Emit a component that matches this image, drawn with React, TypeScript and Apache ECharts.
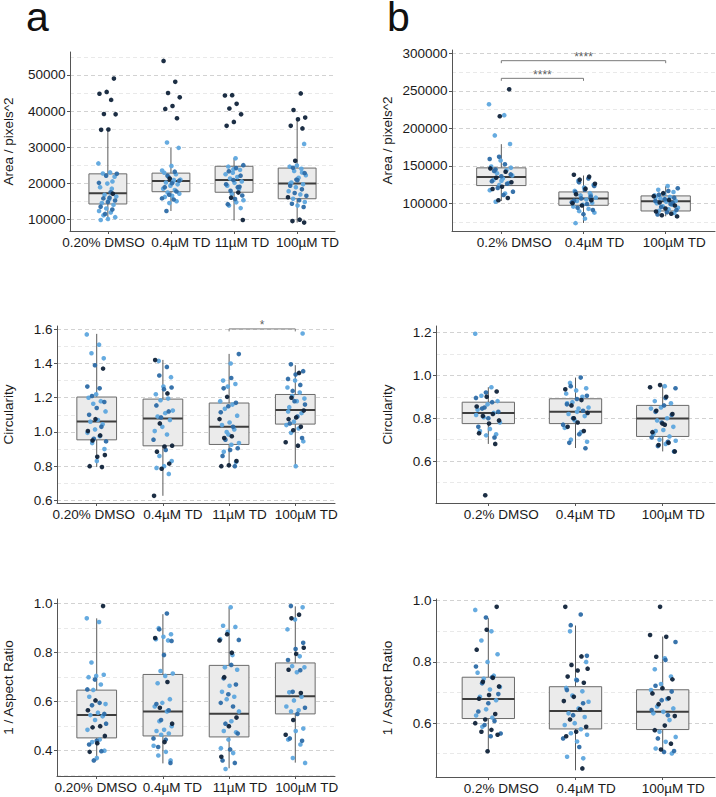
import React, { useEffect, useRef } from "react";
import * as echarts from "echarts";

// ---------- categories ----------
const catsA = ["0.20% DMSO", "0.4µM TD", "11µM TD", "100µM TD"];
const catsB = ["0.2% DMSO", "0.4µM TD", "100µM TD"];

// ---------- box statistics [min, Q1, median, Q3, max] ----------
const areaA_box = [
  [9800, 14250, 17200, 22600, 34800],
  [12300, 17650, 20600, 22800, 29800],
  [9700, 17500, 20900, 24700, 26900],
  [9100, 15700, 19900, 24200, 38100],
];
const areaB_box = [
  [103000, 123600, 135100, 147200, 178800],
  [73700, 97300, 106300, 115100, 137000],
  [82600, 89700, 102700, 109800, 122700],
];
const circA_box = [
  [0.795, 0.954, 1.061, 1.204, 1.573],
  [0.627, 0.919, 1.079, 1.192, 1.421],
  [0.798, 0.927, 1.03, 1.169, 1.456],
  [0.803, 1.046, 1.128, 1.219, 1.39],
];
const circB_box = [
  [0.68, 0.775, 0.824, 0.875, 0.945],
  [0.661, 0.775, 0.83, 0.891, 0.99],
  [0.645, 0.715, 0.799, 0.86, 0.953],
];
const arA_box = [
  [0.36, 0.452, 0.545, 0.647, 0.94],
  [0.348, 0.46, 0.56, 0.711, 0.957],
  [0.328, 0.456, 0.551, 0.748, 0.983],
  [0.351, 0.55, 0.622, 0.758, 0.989],
];
const arB_box = [
  [0.508, 0.615, 0.679, 0.75, 0.943],
  [0.446, 0.581, 0.64, 0.719, 0.919],
  [0.506, 0.579, 0.637, 0.709, 0.883],
];

// ---------- individual cells (L = light blue, M = mid blue, D = dark) ----------
const areaA_L = [
  [25500, 23000, 22700, 21800, 19900, 18900, 18500, 16800, 16300, 15500, 14500, 14000, 13000, 12300, 11900, 11100, 10600, 10100, 9800, 20500],
  [31300, 29800, 24800, 22900, 22500, 21700, 21000, 20500, 20200, 19700, 19300, 18500, 18100, 17400, 17100, 16500, 16200, 15000, 14500, 23500, 20900],
  [26900, 24600, 23700, 22900, 22500, 21700, 21300, 20500, 20100, 19300, 18400, 17000, 15300, 14700, 13800, 13100, 23900],
  [30900, 24900, 24600, 24000, 23400, 22200, 21500, 20200, 19700, 18900, 17800, 16900, 15700, 14800, 13800, 19900, 23000],
];
const areaA_M = [
  [22100, 20100, 17500, 15800, 15200, 14800, 13500, 12700, 11500, 22600, 16000],
  [23200, 22100, 20700, 20000, 18900, 17700, 16800, 15800, 15500, 12300],
  [25000, 24200, 23300, 22100, 20900, 19700, 18900, 17900, 16600, 15600, 14200, 19000],
  [24300, 22800, 20800, 19300, 18300, 17300, 16500, 15300, 14300, 13400, 21000],
];
const areaA_D = [
  [49000, 45300, 44800, 43100, 39200, 39100, 34900, 34800, 17100],
  [53900, 48100, 45000, 43800, 41400, 40600, 38000, 21300],
  [44400, 44300, 42000, 40700, 39100, 37000, 35900, 17400, 16000, 9800],
  [44900, 40300, 38200, 37700, 35900, 35200, 26200, 16100, 9900, 9500, 9100],
];

const areaB_L = [
  [232000, 217500, 190500, 179000, 157000, 149000, 144000, 140000, 137000, 133000, 131000, 127000, 124500, 117500, 113000, 102000, 147500, 130000],
  [130000, 124500, 121000, 116500, 113500, 110500, 107500, 105000, 103000, 100500, 98000, 95500, 92500, 89500, 87500, 79500, 73500, 111000],
  [123000, 118000, 115000, 112500, 110500, 108500, 106500, 103500, 102000, 100000, 98000, 96000, 94000, 92000, 90000, 87000, 105000, 108000],
];
const areaB_M = [
  [162000, 159000, 152000, 145000, 138500, 136000, 129500, 126000, 120500, 115500, 111000, 143000],
  [133000, 128000, 123000, 118000, 115000, 109000, 106500, 101500, 99000, 94000, 91000, 85500, 103500],
  [120000, 116500, 111500, 107500, 105500, 103000, 99000, 95000, 91000, 88000, 85000, 100500],
];
const areaB_D = [
  [252000, 216000, 146500, 142000, 134000, 128000, 122000, 119000, 107000, 104000],
  [138000, 135500, 131500, 126000, 119500, 112000, 104000, 97000, 100000],
  [113500, 109500, 104500, 101000, 97000, 93000, 89000, 86000, 84000, 82500],
];

const circA_L = [
  [1.57, 1.51, 1.46, 1.43, 1.22, 1.2, 1.18, 1.165, 1.12, 1.07, 1.06, 1.045, 1.015, 0.995, 0.975, 0.935, 0.9, 0.83],
  [1.415, 1.32, 1.265, 1.22, 1.195, 1.185, 1.125, 1.11, 1.09, 1.07, 1.03, 1.005, 0.985, 0.86, 0.83, 0.8, 0.79, 0.755],
  [1.4, 1.3, 1.28, 1.265, 1.18, 1.16, 1.135, 1.095, 1.055, 1.04, 1.015, 1.0, 0.935, 0.925, 0.885, 0.825, 0.985],
  [1.575, 1.3, 1.26, 1.23, 1.21, 1.195, 1.18, 1.145, 1.11, 1.06, 1.04, 1.02, 0.995, 0.945, 0.8, 1.12],
];
const circA_M = [
  [1.39, 1.265, 1.255, 1.21, 1.175, 1.14, 1.1, 1.03, 0.96, 0.945],
  [1.38, 1.33, 1.26, 1.25, 1.155, 1.12, 1.085, 0.955, 0.895],
  [1.455, 1.315, 1.255, 1.17, 1.15, 1.115, 1.03, 0.955, 0.905, 0.895, 0.86, 0.8],
  [1.395, 1.355, 1.335, 1.31, 1.275, 1.24, 1.16, 1.09, 1.05, 0.965, 1.18],
];
const circA_D = [
  [1.37, 1.075, 1.005, 0.98, 0.95, 0.865, 0.855, 0.8, 0.795],
  [1.42, 1.225, 1.05, 0.92, 0.915, 0.885, 0.815, 0.785, 0.627],
  [1.205, 1.075, 0.975, 0.965, 0.83, 0.805, 0.8],
  [1.345, 1.2, 1.125, 1.085, 1.075, 1.03, 1.01, 0.94, 0.92],
];

const circB_L = [
  [1.195, 0.945, 0.905, 0.88, 0.865, 0.84, 0.825, 0.805, 0.78, 0.75, 0.74, 0.725, 0.72, 0.815],
  [0.965, 0.94, 0.93, 0.915, 0.9, 0.875, 0.85, 0.845, 0.82, 0.81, 0.79, 0.755, 0.735, 0.7, 0.69, 0.83, 0.87],
  [0.95, 0.88, 0.87, 0.85, 0.845, 0.8, 0.79, 0.76, 0.745, 0.725, 0.715, 0.7, 0.695, 0.68, 0.74],
];
const circB_M = [
  [0.92, 0.895, 0.875, 0.845, 0.83, 0.8, 0.76, 0.71, 0.85],
  [0.99, 0.95, 0.905, 0.89, 0.865, 0.835, 0.8, 0.77, 0.725, 0.685, 0.66],
  [0.94, 0.895, 0.83, 0.815, 0.78, 0.71, 0.69, 0.67, 0.645, 0.86],
];
const circB_D = [
  [0.925, 0.9, 0.855, 0.82, 0.81, 0.79, 0.775, 0.73, 0.68, 0.44],
  [0.935, 0.885, 0.86, 0.825, 0.78, 0.76, 0.74, 0.8],
  [0.955, 0.945, 0.9, 0.835, 0.82, 0.775, 0.735, 0.685, 0.675, 0.645, 0.77],
];

const arA_L = [
  [0.94, 0.925, 0.76, 0.71, 0.705, 0.7, 0.67, 0.648, 0.59, 0.555, 0.545, 0.54, 0.525, 0.485, 0.445, 0.435, 0.4, 0.37, 0.62],
  [0.9, 0.875, 0.865, 0.855, 0.85, 0.725, 0.715, 0.705, 0.675, 0.61, 0.595, 0.58, 0.56, 0.52, 0.5, 0.485, 0.48, 0.47, 0.465, 0.42, 0.395, 0.38, 0.36],
  [0.985, 0.91, 0.905, 0.885, 0.855, 0.79, 0.74, 0.73, 0.665, 0.64, 0.62, 0.61, 0.56, 0.52, 0.48, 0.475, 0.445, 0.41, 0.39, 0.325],
  [0.985, 0.935, 0.895, 0.785, 0.745, 0.74, 0.72, 0.638, 0.62, 0.605, 0.58, 0.565, 0.56, 0.49, 0.48, 0.445, 0.425, 0.37, 0.35],
];
const arA_M = [
  [0.69, 0.65, 0.595, 0.585, 0.55, 0.44, 0.425, 0.398, 0.36, 0.51],
  [0.96, 0.895, 0.848, 0.79, 0.59, 0.565, 0.525, 0.45, 0.445, 0.415, 0.35],
  [0.852, 0.75, 0.695, 0.67, 0.63, 0.595, 0.58, 0.51, 0.47, 0.405, 0.36, 0.35],
  [0.99, 0.84, 0.815, 0.77, 0.728, 0.64, 0.575, 0.55, 0.45, 0.44],
];
const arA_D = [
  [0.99, 0.605, 0.565, 0.5, 0.495, 0.46, 0.43, 0.395],
  [0.86, 0.68, 0.575, 0.51, 0.435],
  [0.875, 0.85, 0.8, 0.7, 0.535, 0.5, 0.375],
  [0.955, 0.94, 0.82, 0.795, 0.73, 0.635, 0.525, 0.465],
];

const arB_L = [
  [0.97, 0.9, 0.87, 0.825, 0.8, 0.765, 0.755, 0.745, 0.718, 0.71, 0.686, 0.675, 0.645, 0.625, 0.618, 0.588],
  [0.9, 0.8, 0.742, 0.715, 0.704, 0.69, 0.67, 0.648, 0.632, 0.62, 0.6, 0.594, 0.58, 0.567, 0.562, 0.54, 0.49, 0.485],
  [0.812, 0.776, 0.752, 0.728, 0.708, 0.679, 0.654, 0.648, 0.637, 0.632, 0.61, 0.572, 0.555, 0.539, 0.517, 0.501],
];
const arB_M = [
  [0.945, 0.785, 0.75, 0.73, 0.695, 0.665, 0.638, 0.607, 0.594, 0.566, 0.557],
  [0.955, 0.92, 0.82, 0.74, 0.708, 0.665, 0.626, 0.55, 0.522],
  [0.865, 0.806, 0.722, 0.703, 0.675, 0.643, 0.626, 0.55, 0.509, 0.506],
];
const arB_D = [
  [0.98, 0.905, 0.84, 0.748, 0.735, 0.72, 0.692, 0.68, 0.63, 0.612, 0.6, 0.578, 0.572, 0.562, 0.508],
  [0.98, 0.818, 0.79, 0.778, 0.772, 0.752, 0.732, 0.686, 0.672, 0.645, 0.612, 0.588, 0.572, 0.557, 0.452],
  [0.98, 0.888, 0.882, 0.817, 0.743, 0.714, 0.697, 0.681, 0.662, 0.623, 0.592, 0.577, 0.533, 0.514],
];

// ---------- significance brackets [from, to, y, label] ----------
const areaB_sig: [number, number, number, string][] = [
  [1, 3, 290150, "****"],
  [1, 2, 266600, "****"],
];
const circA_sig: [number, number, number, string][] = [[3, 4, 1.602, "*"]];

// ---------- styling ----------
const FONT = '"Liberation Sans", Arial, Helvetica, sans-serif';
const TXT = "#1a1a1a";
const AXIS = "#555555";
const SHADES: Record<string, string> = { L: "#5ea7de", M: "#2d6ca6", D: "#10233a" };

type Panel = {
  cats: string[];
  box: number[][];
  L: number[][];
  M: number[][];
  D: number[][];
  yName: string;
  min: number;
  max: number;
  step: number;
  dec: number;
  grid: { left: number; top: number; width: number; height: number };
  nameGap: number;
  labelShift: number[]; // px shift of each category label (layout only)
  sig: [number, number, number, string][];
};

const panels: Panel[] = [
  { cats: catsA, box: areaA_box, L: areaA_L, M: areaA_M, D: areaA_D, yName: "Area / pixels^2", min: 6760, max: 56370, step: 10000, dec: 0, grid: { left: 68, top: 52, width: 267, height: 179 }, nameGap: 55, labelShift: [-4.5, 10, 8, 10.5], sig: [] },
  { cats: catsB, box: areaB_box, L: areaB_L, M: areaB_M, D: areaB_D, yName: "Area / pixels^2", min: 63000, max: 304400, step: 50000, dec: 0, grid: { left: 452, top: 50, width: 263, height: 181 }, nameGap: 58, labelShift: [13, 11, 8.5], sig: areaB_sig },
  { cats: catsA, box: circA_box, L: circA_L, M: circA_M, D: circA_D, yName: "Circularity", min: 0.585, max: 1.619, step: 0.2, dec: 1, grid: { left: 56, top: 326, width: 279, height: 177 }, nameGap: 42, labelShift: [-3, 10, 10.5, 11], sig: circA_sig },
  { cats: catsB, box: circB_box, L: circB_L, M: circB_M, D: circB_D, yName: "Circularity", min: 0.404, max: 1.231, step: 0.2, dec: 1, grid: { left: 436, top: 326, width: 279, height: 177 }, nameGap: 42, labelShift: [13, 10, 10.5], sig: [] },
  { cats: catsA, box: arA_box, L: arA_L, M: arA_M, D: arA_D, yName: "1 / Aspect Ratio", min: 0.2965, max: 1.019, step: 0.2, dec: 1, grid: { left: 56, top: 599, width: 279, height: 177 }, nameGap: 42, labelShift: [-1, 9.5, 11, 11.5], sig: [] },
  { cats: catsB, box: arB_box, L: arB_L, M: arB_M, D: arB_D, yName: "1 / Aspect Ratio", min: 0.424, max: 1.0056, step: 0.2, dec: 1, grid: { left: 436, top: 599, width: 279, height: 178 }, nameGap: 42, labelShift: [13, 10.5, 10.5], sig: [] },
];

const BOX_W = 0.6;
const JIT = 0.15;

function renderBox(_params: any, api: any) {
  const x = api.value(0);
  const pMin = api.coord([x, api.value(1)]);
  const pQ1 = api.coord([x, api.value(2)]);
  const pMed = api.coord([x, api.value(3)]);
  const pQ3 = api.coord([x, api.value(4)]);
  const pMax = api.coord([x, api.value(5)]);
  const half = api.size([BOX_W, 0])[0] / 2;
  const lineStyle = { stroke: "#5a5a5a", lineWidth: 1, fill: null };
  return {
    type: "group",
    children: [
      { type: "line", shape: { x1: pMax[0], y1: pMax[1], x2: pQ3[0], y2: pQ3[1] }, style: lineStyle },
      { type: "line", shape: { x1: pQ1[0], y1: pQ1[1], x2: pMin[0], y2: pMin[1] }, style: lineStyle },
      {
        type: "rect",
        shape: { x: pQ3[0] - half, y: pQ3[1], width: half * 2, height: pQ1[1] - pQ3[1] },
        style: { fill: "#ebebeb", stroke: "#6a6a6a", lineWidth: 1 },
      },
      {
        type: "line",
        shape: { x1: pMed[0] - half, y1: pMed[1], x2: pMed[0] + half, y2: pMed[1] },
        style: { stroke: "#3d3d3d", lineWidth: 2 },
      },
    ],
  };
}

function buildOption() {
  const grid: any[] = [];
  const xAxis: any[] = [];
  const yAxis: any[] = [];
  const series: any[] = [];
  panels.forEach((p, k) => {
    grid.push({ ...p.grid });
    const n = p.cats.length;
    const idx = p.cats.map((_, i) => i + 1);
    const unitPx = p.grid.width / (n + 0.2);
    const labelPos = idx.map((v, i) => v + p.labelShift[i] / unitPx);
    xAxis.push({
      gridIndex: k,
      type: "value",
      min: 0.4,
      max: n + 0.6,
      axisLine: { show: true, lineStyle: { color: AXIS, width: 1 } },
      axisTick: { show: true, customValues: idx, length: 3, lineStyle: { color: AXIS } },
      axisLabel: {
        customValues: labelPos,
        formatter: (v: number) => p.cats[Math.round(v) - 1] ?? "",
        showMinLabel: true,
        showMaxLabel: true,
        hideOverlap: false,
        margin: 4,
        fontSize: 13.5,
        fontFamily: FONT,
        color: TXT,
      },
      splitLine: { show: false },
    });
    yAxis.push({
      gridIndex: k,
      type: "value",
      min: p.min,
      max: p.max,
      minInterval: p.step,
      maxInterval: p.step,
      name: p.yName,
      nameLocation: "middle",
      nameGap: p.nameGap,
      nameTextStyle: { fontSize: 13.5, fontFamily: FONT, color: TXT },
      axisLine: { show: true, lineStyle: { color: AXIS, width: 1 } },
      axisTick: { show: true, length: 3, lineStyle: { color: AXIS } },
      axisLabel: {
        showMinLabel: false,
        showMaxLabel: false,
        formatter: (v: number) => v.toFixed(p.dec),
        margin: 4.5,
        fontSize: 13.5,
        fontFamily: FONT,
        color: TXT,
      },
      splitLine: { show: true, showMinLine: false, showMaxLine: false, lineStyle: { color: "#d2d2d2", type: [4, 3], width: 1 } },
      minorTick: { show: false, splitNumber: 2 },
      minorSplitLine: { show: true, lineStyle: { color: "#e9e9e9", type: [4, 3], width: 1 } },
    });

    series.push({
      type: "custom",
      xAxisIndex: k,
      yAxisIndex: k,
      data: p.box.map((b, i) => [i + 1, ...b]),
      encode: { x: 0, y: [1, 2, 3, 4, 5] },
      renderItem: renderBox,
      z: 2,
      silent: true,
    });

    (["L", "M", "D"] as const).forEach((s, si) => {
      const data: number[][] = [];
      p[s].forEach((vals, g) => {
        vals.forEach((v, i) => {
          const u = ((i * 0.6180339887 + g * 0.29 + si * 0.41) % 1) * 2 - 1;
          data.push([g + 1 + JIT * u, v]);
        });
      });
      series.push({
        type: "scatter",
        xAxisIndex: k,
        yAxisIndex: k,
        data,
        symbolSize: 4.6,
        itemStyle: { color: SHADES[s], opacity: 0.95 },
        z: 3 + si,
        silent: true,
      });
    });

    p.sig.forEach(([a, b, y, txt]) => {
      const tick = (2.5 * (p.max - p.min)) / p.grid.height;
      series.push({
        type: "line",
        xAxisIndex: k,
        yAxisIndex: k,
        data: [[a, y - tick], [a, y], [b, y], [b, y - tick]],
        symbol: "none",
        lineStyle: { color: "#7a7a7a", width: 1 },
        z: 6,
        silent: true,
      });
      series.push({
        type: "scatter",
        xAxisIndex: k,
        yAxisIndex: k,
        data: [[(a + b) / 2, y]],
        symbolSize: 1,
        itemStyle: { color: "rgba(0,0,0,0)" },
        label: {
          show: true,
          position: "top",
          distance: 0,
          offset: [0, 3],
          formatter: txt,
          fontSize: 12,
          fontFamily: FONT,
          color: "#333",
        },
        z: 6,
        silent: true,
      });
    });
  });

  return {
    animation: false,
    backgroundColor: "#ffffff",
    grid,
    xAxis,
    yAxis,
    series,
    graphic: [
      { type: "text", x: 26, y: 17, style: { text: "a", fontSize: 41, lineHeight: 32, fontFamily: FONT, fill: "#111", verticalAlign: "middle" } },
      { type: "text", x: 387, y: 17, style: { text: "b", fontSize: 41, lineHeight: 32, fontFamily: FONT, fill: "#111", verticalAlign: "middle" } },
    ],
  };
}

export default function App() {
  const ref = useRef<HTMLDivElement>(null);
  useEffect(() => {
    if (!ref.current) return;
    const chart = echarts.init(ref.current, undefined, { renderer: "svg" });
    chart.setOption(buildOption() as any);
    return () => chart.dispose();
  }, []);
  return (
    <div
      ref={ref}
      style={{ position: "absolute", left: 0, top: 0, width: 716, height: 797, background: "#fff" }}
    />
  );
}
